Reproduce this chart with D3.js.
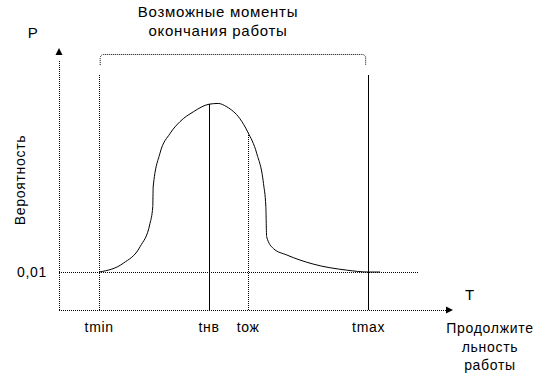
<!DOCTYPE html>
<html><head><meta charset="utf-8">
<script src="https://cdn.jsdelivr.net/npm/d3@7"></script>
<style>
html,body{margin:0;padding:0;background:#fff;}
svg{display:block;}
text{font-family:"Liberation Sans",Arial,sans-serif;fill:#000;letter-spacing:0.7px;}
</style></head>
<body>
<script>
// Duration (x, conventional units) and probability (y) of the curve
const curveX = [10.2, 16.3, 20.6, 23.1, 23.8, 23.9, 25.6, 28.2, 30.7, 34.1, 38.1, 40.4, 42.6, 45.9, 47.9, 50.2, 51.9, 52.5, 52.7, 54.4, 57.8, 64.5, 73.0, 78.6, 81.5];
const curveP = [0.0100, 0.0123, 0.0167, 0.0228, 0.0272, 0.0324, 0.0412, 0.0465, 0.0496, 0.0522, 0.0542, 0.0544, 0.0535, 0.0504, 0.0469, 0.0412, 0.0333, 0.0272, 0.0193, 0.0162, 0.0145, 0.0121, 0.0105, 0.0100, 0.0100];
const markNames = ["tmin", "tнв", "tож", "tmax"];
const markX = [10.2, 38.1, 48.0, 78.6];
const markStyle = ["dotted", "solid", "dotted", "solid"];
const levelP = 0.01;
const levelLabel = "0,01";
const titleLines = ["Возможные моменты", "окончания работы"];
const yTitle = "Вероятность";
const xTitleLines = ["Продолжите", "льность", "работы"];
const yAxisName = "P";
const xAxisName = "T";
const bracketTopP = 0.0673;
const bracketEndP = 0.0645;
const boundTopP = 0.0618;

const W = 546, H = 379;
const svg = d3.select("body").append("svg").attr("width", W).attr("height", H);

const x = d3.scaleLinear().domain([0, 100]).range([59, 453]);
const y = d3.scaleLinear().domain([0, 0.069]).range([310, 48]);

const dot = "1,1";

// axes
svg.append("line").attr("x1", x(0)).attr("x2", x(98.5)).attr("y1", y(0)).attr("y2", y(0))
  .attr("stroke", "#000").attr("stroke-dasharray", dot).attr("shape-rendering", "crispEdges");
svg.append("line").attr("x1", x(0)).attr("x2", x(0)).attr("y1", y(0)).attr("y2", y(0.0655))
  .attr("stroke", "#000").attr("stroke-dasharray", dot).attr("shape-rendering", "crispEdges");
// arrows
svg.append("path")
  .attr("d", `M${x(100)},${y(0)} L${x(100) - 7},${y(0) - 3.5} L${x(100) - 7},${y(0) + 3.5} Z`)
  .attr("fill", "#000");
svg.append("path")
  .attr("d", `M${x(0)},${y(0.069)} L${x(0) - 3.5},${y(0.069) + 7} L${x(0) + 3.5},${y(0.069) + 7} Z`)
  .attr("fill", "#000");

// level line 0.01
svg.append("line").attr("x1", x(0)).attr("x2", x(91)).attr("y1", y(levelP)).attr("y2", y(levelP))
  .attr("stroke", "#000").attr("stroke-dasharray", dot).attr("shape-rendering", "crispEdges");

// interpolate curve
const pts = curveX.map((v, i) => [v, curveP[i]]);
function curveAt(v) {
  const i = d3.bisector(d => d[0]).left(pts, v);
  if (i <= 0) return pts[0][1];
  if (i >= pts.length) return pts[pts.length - 1][1];
  const a = pts[i - 1], b = pts[i];
  const t = (v - a[0]) / (b[0] - a[0]);
  return a[1] + t * (b[1] - a[1]);
}

// vertical mark lines
markX.forEach((v, i) => {
  const top = (i === 0 || i === 3) ? boundTopP : curveAt(v);
  svg.append("line").attr("x1", x(v)).attr("x2", x(v)).attr("y1", y(top)).attr("y2", y(0))
    .attr("stroke", "#000")
    .attr("stroke-dasharray", markStyle[i] === "dotted" ? dot : null)
    .attr("shape-rendering", "crispEdges");
  svg.append("text").attr("x", x(v)).attr("y", y(0) + 22).attr("text-anchor", "middle")
    .attr("font-size", 14).text(markNames[i]);
});

// curve
svg.append("path").datum(pts)
  .attr("d", d3.line().x(d => x(d[0])).y(d => y(d[1])).curve(d3.curveMonotoneX))
  .attr("fill", "none").attr("stroke", "#000").attr("stroke-width", 1);

// bracket
const bx0 = x(markX[0]) + 1, bx1 = x(markX[3]) - 3, by = y(bracketTopP), be = y(bracketEndP), r = 4;
svg.append("path")
  .attr("d", `M${bx0},${be} L${bx0},${by + r} Q${bx0},${by} ${bx0 + r},${by} L${bx1 - r},${by} Q${bx1},${by} ${bx1},${by + r} L${bx1},${be}`)
  .attr("fill", "none").attr("stroke", "#000").attr("stroke-dasharray", dot);

// texts
titleLines.forEach((t, i) => {
  svg.append("text").attr("x", 218).attr("y", 17 + i * 19).attr("text-anchor", "middle")
    .attr("font-size", 15).text(t);
});
svg.append("text").attr("x", 33).attr("y", 38).attr("text-anchor", "middle").attr("font-size", 15).text(yAxisName);
svg.append("text").attr("x", 470).attr("y", 300).attr("text-anchor", "middle").attr("font-size", 15).text(xAxisName);
svg.append("text").attr("transform", `translate(25,${180}) rotate(-90)`).attr("text-anchor", "middle")
  .attr("font-size", 14).text(yTitle);
svg.append("text").attr("x", 47).attr("y", y(levelP) + 5).attr("text-anchor", "end")
  .attr("font-size", 14).text(levelLabel);
xTitleLines.forEach((t, i) => {
  svg.append("text").attr("x", 490).attr("y", 333 + i * 18.5).attr("text-anchor", "middle")
    .attr("font-size", 14).text(t);
});
</script>
</body></html>
